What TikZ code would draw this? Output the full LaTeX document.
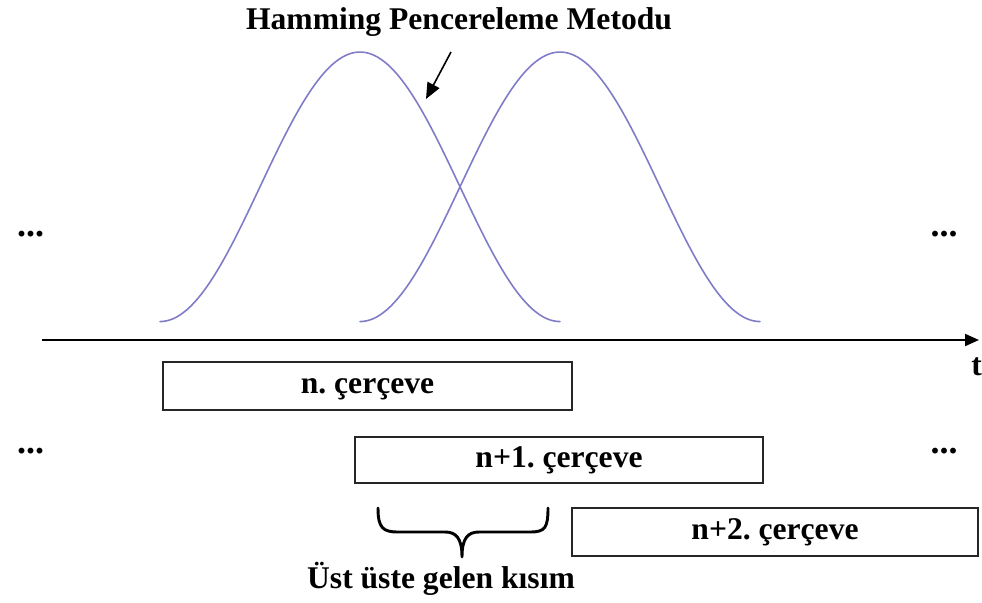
\documentclass[tikz,border=0pt]{standalone}
\usepackage{fontspec}
\setmainfont{Liberation Serif}
\usetikzlibrary{arrows.meta}
\definecolor{winblue}{RGB}{128,124,200}
\frenchspacing
\tikzset{
  lbl/.style={font=\fontsize{23.7pt}{28pt}\selectfont\bfseries, inner sep=0pt},
  dots/.style={font=\fontsize{27pt}{30pt}\selectfont\bfseries, inner sep=0pt},
  framebox/.style={draw=black!85, line width=1.5pt, inner sep=0pt,
    font=\fontsize{23.7pt}{28pt}\selectfont\bfseries,
    text height=16.4pt, text depth=5.2pt},
  window/.style={draw=winblue, line width=1.2pt, line cap=round},
}
\begin{document}
\begin{tikzpicture}[x=0.75pt,y=-0.75pt]
\useasboundingbox (0,0) rectangle (982,603);
% title
\node[lbl, anchor=base] (title) at (459,29) {Hamming Pencereleme Metodu};
% windows
\draw[window] plot[domain=160:560, samples=120, smooth] (\x, {345-293*(0.54-0.46*cos(0.9*(\x-160)))});
\draw[window] plot[domain=360:760, samples=120, smooth] (\x, {345-293*(0.54-0.46*cos(0.9*(\x-360)))});
% pointer arrow
\coordinate (pa) at (451,52);
\coordinate (pb) at (426,99);
\draw[line width=1.2pt, -{Triangle[length=12pt,width=10pt]}] (pa) -- (pb);
% time axis
\coordinate (ax0) at (42,340);
\coordinate (ax1) at (979,340);
\draw[line width=1.5pt, -{Triangle[length=10.5pt,width=9pt]}] (ax0) -- (ax1);
\node[lbl, anchor=base west] (t) at (971,375) {t};
% dots
\node[dots, anchor=base] (d1) at (30.5,236) {...};
\node[dots, anchor=base] (d2) at (944,236) {...};
\node[dots, anchor=base] (d3) at (30.5,453) {...};
\node[dots, anchor=base] (d4) at (944,453) {...};
% frames
\node[framebox, minimum width=409*0.75pt, minimum height=48*0.75pt] (f1) at (367.5,386) {n. çerçeve};
\node[framebox, minimum width=408*0.75pt, minimum height=46*0.75pt] (f2) at (559,460) {n+1. çerçeve};
\node[framebox, minimum width=406*0.75pt, minimum height=48*0.75pt] (f3) at (775,532) {n+2. çerçeve};
% brace
\draw[line width=2.2pt, line cap=round, line join=round]
  (378,508) .. controls (378,528) and (383,532) .. (398,532) -- (445,532)
  .. controls (456,532) and (462,538) .. (462,557)
  .. controls (462,538) and (468,532) .. (479,532) -- (530,532)
  .. controls (545,532) and (548,528) .. (548,508);
\coordinate (btip) at (462,557);
\node[lbl, anchor=base] (ov) at (441,588) {Üst üste gelen kısım};
\end{tikzpicture}
\end{document}
